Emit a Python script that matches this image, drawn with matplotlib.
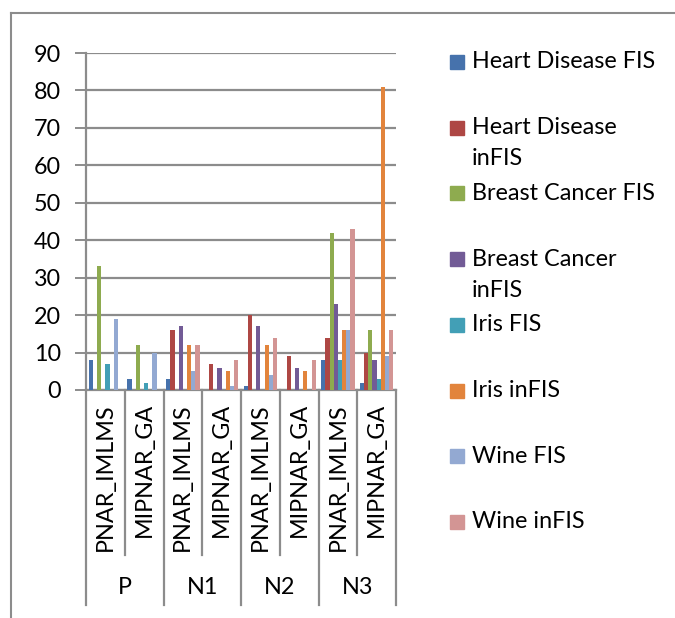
import matplotlib
matplotlib.use("Agg")
import matplotlib.pyplot as plt
import numpy as np
from matplotlib.lines import Line2D
from matplotlib.patches import Rectangle
import matplotlib.transforms as mtransforms

plt.rcParams['font.family'] = ['Lato', 'DejaVu Sans']

groups = ["P", "N1", "N2", "N3"]
methods = ["PNAR_IMLMS", "MIPNAR_GA"]
series_names = ["Heart Disease FIS", "Heart Disease\ninFIS", "Breast Cancer FIS",
                "Breast Cancer\ninFIS", "Iris FIS", "Iris inFIS", "Wine FIS", "Wine inFIS"]

# values per category (P-PNAR, P-MIPNAR, N1-PNAR, N1-MIPNAR, N2-PNAR, N2-MIPNAR, N3-PNAR, N3-MIPNAR)
heart_fis     = [8, 3, 3, 0, 1, 0, 8, 2]
heart_infis   = [0, 0, 16, 7, 20, 9, 14, 10]
breast_fis    = [33, 12, 0, 0, 0, 0, 42, 16]
breast_infis  = [0, 0, 17, 6, 17, 6, 23, 8]
iris_fis      = [7, 2, 0, 0, 0, 0, 8, 3]
iris_infis    = [0, 0, 12, 5, 12, 5, 16, 81]
wine_fis      = [19, 10, 5, 1, 4, 0, 16, 9]
wine_infis    = [0, 0, 12, 8, 14, 8, 43, 16]

series = [heart_fis, heart_infis, breast_fis, breast_infis,
          iris_fis, iris_infis, wine_fis, wine_infis]
colors = ["#4672AC", "#AE4744", "#8EAB4F", "#725B96",
          "#429FB6", "#E2843C", "#93A9D2", "#D39594"]

FS = 16.8
W, H = 675, 618
fig = plt.figure(figsize=(W / 100, H / 100), dpi=100)

ax_left, ax_right, ax_top, ax_bot = 86, 396, 53, 390
ax = fig.add_axes([ax_left / W, 1 - ax_bot / H, (ax_right - ax_left) / W, (ax_bot - ax_top) / H])

ncat = len(groups) * len(methods)
x = np.arange(ncat)
nser = len(series)
bw = 0.86 / nser
for j, (vals, c) in enumerate(zip(series, colors)):
    ax.bar(x + (j - (nser - 1) / 2) * bw, vals, width=bw, color=c,
           edgecolor='none', zorder=3)

ax.set_xlim(-0.5, ncat - 0.5)
ax.set_ylim(0, 90)
ax.set_yticks(np.arange(0, 91, 10))
ax.yaxis.grid(True, color='#8C8C8C', lw=1.6, zorder=0)
ax.set_axisbelow(True)
ax.tick_params(axis='y', length=8, width=1.4, color='#8C8C8C', pad=10, labelsize=FS)
ax.set_xticks([])
for s in ['top', 'right']:
    ax.spines[s].set_visible(False)
ax.spines['left'].set_color('#8C8C8C')
ax.spines['left'].set_linewidth(1.6)
ax.spines['bottom'].set_color('#8C8C8C')
ax.spines['bottom'].set_linewidth(1.6)

trans = mtransforms.blended_transform_factory(ax.transData, ax.transAxes)
axh = ax_bot - ax_top
def ypx_to_axes(ypx):
    return (ax_bot - ypx) / axh

# separators
for b in np.arange(-0.5, ncat, 1.0):
    k = int(round(b + 0.5))
    yend = 605 if k % 2 == 0 else 555
    ax.add_line(Line2D([b, b], [0, ypx_to_axes(yend)], transform=trans,
                       color='#8C8C8C', lw=1.6, clip_on=False))

# method labels
for i in range(ncat):
    ax.text(i, ypx_to_axes(403), methods[i % 2], transform=trans, rotation=90,
            ha='center', va='top', fontsize=FS, clip_on=False)
# group labels
for g, name in enumerate(groups):
    ax.text(2 * g + 0.5, ypx_to_axes(588), name, transform=trans,
            ha='center', va='center', fontsize=FS, clip_on=False)

# outer frame (top and left)
fig.add_artist(Line2D([11 / W, 11 / W], [0, 1 - 13 / H], transform=fig.transFigure,
                      color='#8C8C8C', lw=1.5))
fig.add_artist(Line2D([11 / W, 1], [1 - 13 / H, 1 - 13 / H], transform=fig.transFigure,
                      color='#8C8C8C', lw=1.5))

# legend
for i, (name, c) in enumerate(zip(series_names, colors)):
    yc = 62 + i * 65.7
    fig.add_artist(Rectangle((450 / W, 1 - (yc + 7) / H), 14 / W, 14 / H,
                             transform=fig.transFigure, color=c))
    for li, line in enumerate(name.split("\n")):
        fig.text(472 / W, 1 - (yc + li * 31) / H, line, ha='left', va='center',
                 fontsize=FS)

fig.savefig("out.png", dpi=100)
